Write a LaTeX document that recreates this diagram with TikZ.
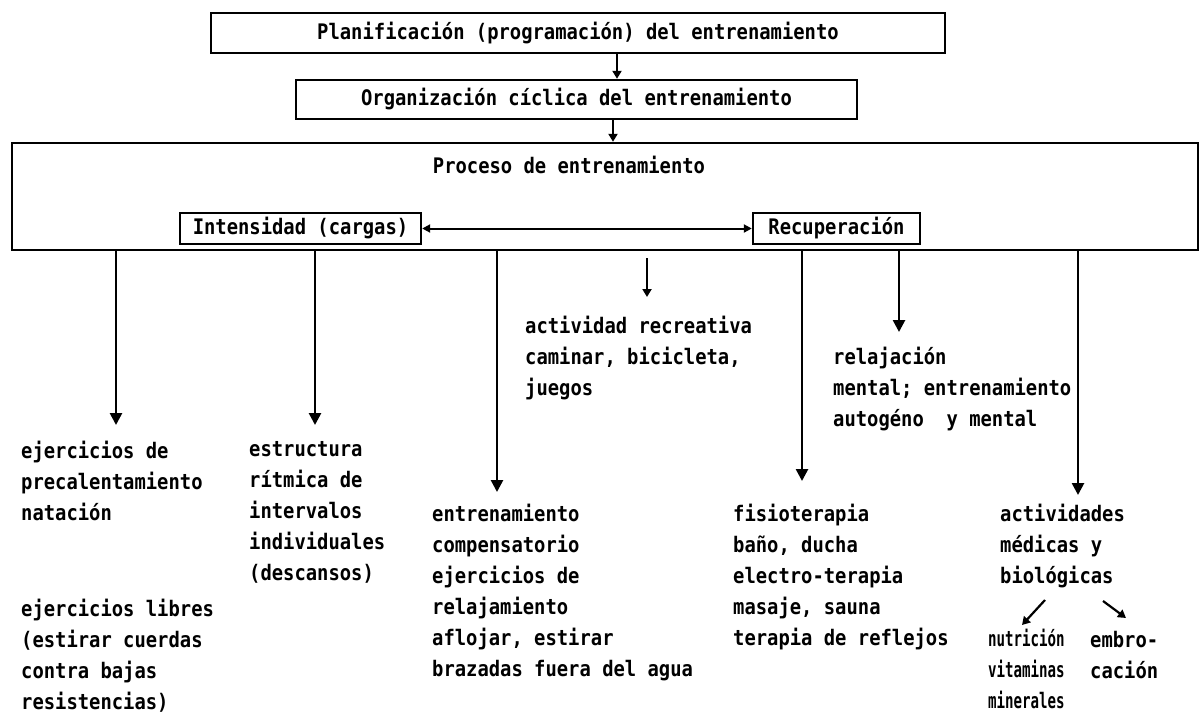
\documentclass[tikz,border=0pt]{standalone}
\usepackage{fontspec}
\setmonofont{DejaVu Sans Mono}[FakeStretch=0.88]
\newfontfamily\narrowmono{DejaVu Sans Mono}[FakeStretch=0.66]
\usetikzlibrary{arrows.meta}

\newcommand{\dotfont}{\ttfamily\bfseries\fontsize{21.4}{31}\selectfont}
\tikzset{
  box/.style={draw,line width=2.4pt,inner sep=0pt},
  txt/.style={anchor=north west,inner sep=0pt,align=left},
  arr/.style={line width=2.6pt,-{Triangle[length=12pt,width=12pt]}},
  smallarr/.style={line width=2.2pt,-{Triangle[length=8pt,width=9pt]}},
  dblarr/.style={line width=2pt,{Triangle[length=8pt,width=8pt]}-{Triangle[length=8pt,width=8pt]}},
}

\begin{document}
\begin{tikzpicture}[
      x=1pt,y=-1pt,
      every node/.style={font=\dotfont},
      ]
  \useasboundingbox (0,0) rectangle (1201,715);

  % boxes
  \node[box,minimum width=734pt,minimum height=40pt] (plan) at (578,33)
    {Planificación (programación) del entrenamiento};
  \node[box,minimum width=561pt,minimum height=39pt] (org) at (576.5,99.5)
    {Organización cíclica del entrenamiento};
  \node[box,minimum width=1186pt,minimum height=107pt] (proc) at (605,196.5) {};
  \node (proctit) at (569,165) {Proceso de entrenamiento};
  \node[box,minimum width=241pt,minimum height=31pt] (inten) at (300.5,228.5) {Intensidad (cargas)};
  \node[box,minimum width=167pt,minimum height=31pt] (recup) at (836.5,228.5) {Recuperación};

  \draw[smallarr] ([xshift=39pt]plan.south) -- ([xshift=39pt]plan.south |- org.north);
  \draw[smallarr] ([xshift=36.5pt]org.south) -- ([xshift=36.5pt]org.south |- proc.north);
  \draw[dblarr] (inten.east) -- (recup.west);

  % texts
  \node[txt] (prec) at (21,441) {ejercicios de\\precalentamiento\\natación};
  \node[txt] (libres) at (21,599) {\baselineskip=29pt ejercicios libres\\(estirar cuerdas\\contra bajas\\resistencias)};
  \node[txt] (estruct) at (249,441) {estructura\\rítmica de\\intervalos\\individuales\\(descansos)};
  \node[txt] (recre) at (525,316) {actividad recreativa\\caminar, bicicleta,\\juegos};
  \node[txt] (compens) at (432,504) {entrenamiento\\compensatorio\\ejercicios de\\relajamiento\\aflojar, estirar\\brazadas fuera del agua};
  \node[txt] (relaj) at (833,347) {relajación\\mental; entrenamiento\\autogéno\ \ y mental};
  \node[txt] (fisio) at (733,504) {fisioterapia\\baño, ducha\\electro-terapia\\masaje, sauna\\terapia de reflejos};
  \node[txt] (medic) at (1000,504) {actividades\\médicas y\\biológicas};
  \node[txt,font=\narrowmono\bfseries\fontsize{21.4}{31}\selectfont] (nutri) at (988,629) {\baselineskip=30pt nutrición\\vitaminas\\minerales};
  \node[txt] (embro) at (1090,631) {embro-\\cación};

  % arrows out of the process box
  \coordinate (t1) at (116,425);
  \coordinate (t2) at (315,425);
  \coordinate (t3) at (497,492);
  \coordinate (t4) at (647,297);
  \coordinate (t5) at (802,481);
  \coordinate (t6) at (899,332);
  \coordinate (t7) at (1078,495);
  \foreach \t in {t1,t2,t3,t5,t6,t7}
    \draw[arr] (proc.south -| \t) -- (\t);
  \draw[smallarr,shorten <=7pt] (proc.south -| t4) -- (t4);

  \coordinate (b1) at (1045,600);
  \coordinate (b2) at (1022,625);
  \coordinate (b3) at (1103,601);
  \coordinate (b4) at (1126,618);
  \draw[smallarr] (b1) -- (b2);
  \draw[smallarr] (b3) -- (b4);
\end{tikzpicture}
\end{document}
